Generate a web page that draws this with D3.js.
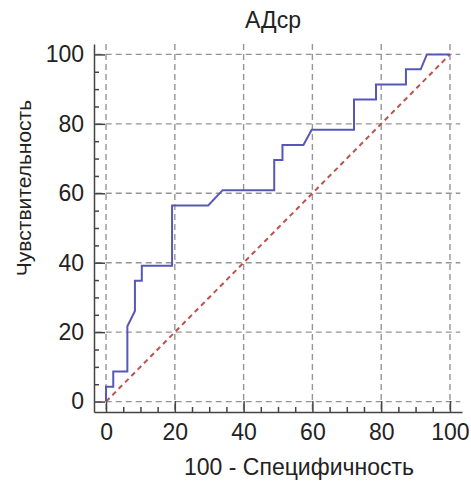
<html><head>
<meta charset="utf-8">
<title>ROC - АДср</title>
<script src="https://d3js.org/d3.v7.min.js"></script>
<style>
  body { margin: 0; background: #fff; }
  text { font-family: "Liberation Sans", Arial, sans-serif; fill: #222; }
  .axis .domain { stroke: #444; stroke-width: 1.5; }
  .axis line { stroke: #444; stroke-width: 1.5; }
  .axis text { font-size: 23px; }
  .gridlines line { stroke: #959595; stroke-width: 1.4; stroke-dasharray: 6,4; }
  .gridlines .domain { stroke: none; }
</style>
</head>
<body>
<svg id="roc" width="471" height="481"></svg>

<script>
  // ROC curve points: 100 - specificity (x) and sensitivity (y), in %
  const fpr = [0, 0, 2.1, 2.1, 6.2, 6.2, 8.4, 8.4, 10.4, 10.4, 19.2, 19.2, 29.7, 33.9,
               48.9, 48.9, 51.3, 51.3, 57.4, 59.8, 72.1, 72.1, 78.5, 78.5, 87.2, 87.2,
               91.5, 93.3, 100];
  const tpr = [0, 4.3, 4.3, 8.7, 8.7, 21.7, 26.1, 34.8, 34.8, 39.1, 39.1, 56.5, 56.5, 60.9,
               60.9, 69.6, 69.6, 73.9, 73.9, 78.3, 78.3, 87.0, 87.0, 91.3, 91.3, 95.7,
               95.7, 100, 100];
  const majorTicks = [0, 20, 40, 60, 80, 100];
  const minorTicks = [5, 10, 15, 25, 30, 35, 45, 50, 55, 65, 70, 75, 85, 90, 95];

  const chartTitle = "АДср";
  const xTitle = "100 - Специфичность";
  const yTitle = "Чувствительность";

  const svg = d3.select('svg#roc');

  // frame runs a little past 0..100 on both axes
  const xScale = d3.scaleLinear().domain([-3.5, 103.5]).range([94, 462]);
  const yScale = d3.scaleLinear().domain([-3, 103]).range([412, 44]);

  // gridlines
  svg.append('g')
    .attr('class', 'gridlines')
    .call(g => g.selectAll('line.h').data(majorTicks).join('line')
      .attr('class', 'h')
      .attr('x1', xScale(-3)).attr('x2', xScale(103))
      .attr('y1', d => yScale(d)).attr('y2', d => yScale(d)))
    .call(g => g.selectAll('line.v').data(majorTicks).join('line')
      .attr('class', 'v')
      .attr('y1', yScale(103)).attr('y2', yScale(-2.5))
      .attr('x1', d => xScale(d)).attr('x2', d => xScale(d)));

  // axes, ticks pointing inward
  const leftAxis = d3.axisLeft(yScale).tickValues(majorTicks)
                     .tickSizeInner(-11).tickSizeOuter(0).tickPadding(10);
  svg.append('g').attr('class', 'y axis')
     .attr('transform', `translate(${xScale(-3.5)},0)`)
     .call(leftAxis);
  svg.append('g').attr('class', 'y axis minor')
     .attr('transform', `translate(${xScale(-3.5)},0)`)
     .call(d3.axisLeft(yScale).tickValues(minorTicks).tickSizeInner(-5).tickSizeOuter(0).tickFormat(''))
     .select('.domain').remove();

  const bottomAxis = d3.axisBottom(xScale).tickValues(majorTicks)
                       .tickSizeInner(-11).tickSizeOuter(0).tickPadding(12);
  svg.append('g').attr('class', 'x axis')
     .attr('transform', `translate(0,${yScale(-3)})`)
     .call(bottomAxis);
  svg.append('g').attr('class', 'x axis minor')
     .attr('transform', `translate(0,${yScale(-3)})`)
     .call(d3.axisBottom(xScale).tickValues(minorTicks).tickSizeInner(-5).tickSizeOuter(0).tickFormat(''))
     .select('.domain').remove();

  svg.selectAll('.axis text').attr('fill', '#222');

  // reference diagonal
  svg.append('line')
     .attr('x1', xScale(0)).attr('y1', yScale(0))
     .attr('x2', xScale(100)).attr('y2', yScale(100))
     .attr('stroke', '#c0504d')
     .attr('stroke-width', 2)
     .attr('stroke-dasharray', '5,4');

  // ROC curve
  const line = d3.line()
                 .x((d, i) => xScale(fpr[i]))
                 .y((d, i) => yScale(tpr[i]));
  svg.append('path')
     .datum(fpr)
     .attr('d', line)
     .attr('fill', 'none')
     .attr('stroke', '#5757b8')
     .attr('stroke-width', 2);

  // titles
  svg.append('text')
     .attr('x', 273).attr('y', 28)
     .attr('text-anchor', 'middle')
     .style('font-size', '23px')
     .text(chartTitle);

  svg.append('text')
     .attr('x', 299).attr('y', 475)
     .attr('text-anchor', 'middle')
     .style('font-size', '23px')
     .text(xTitle);

  svg.append('text')
     .attr('transform', 'translate(31,188) rotate(-90)')
     .attr('text-anchor', 'middle')
     .style('font-size', '21px')
     .text(yTitle);
</script>
</body>
</html>
